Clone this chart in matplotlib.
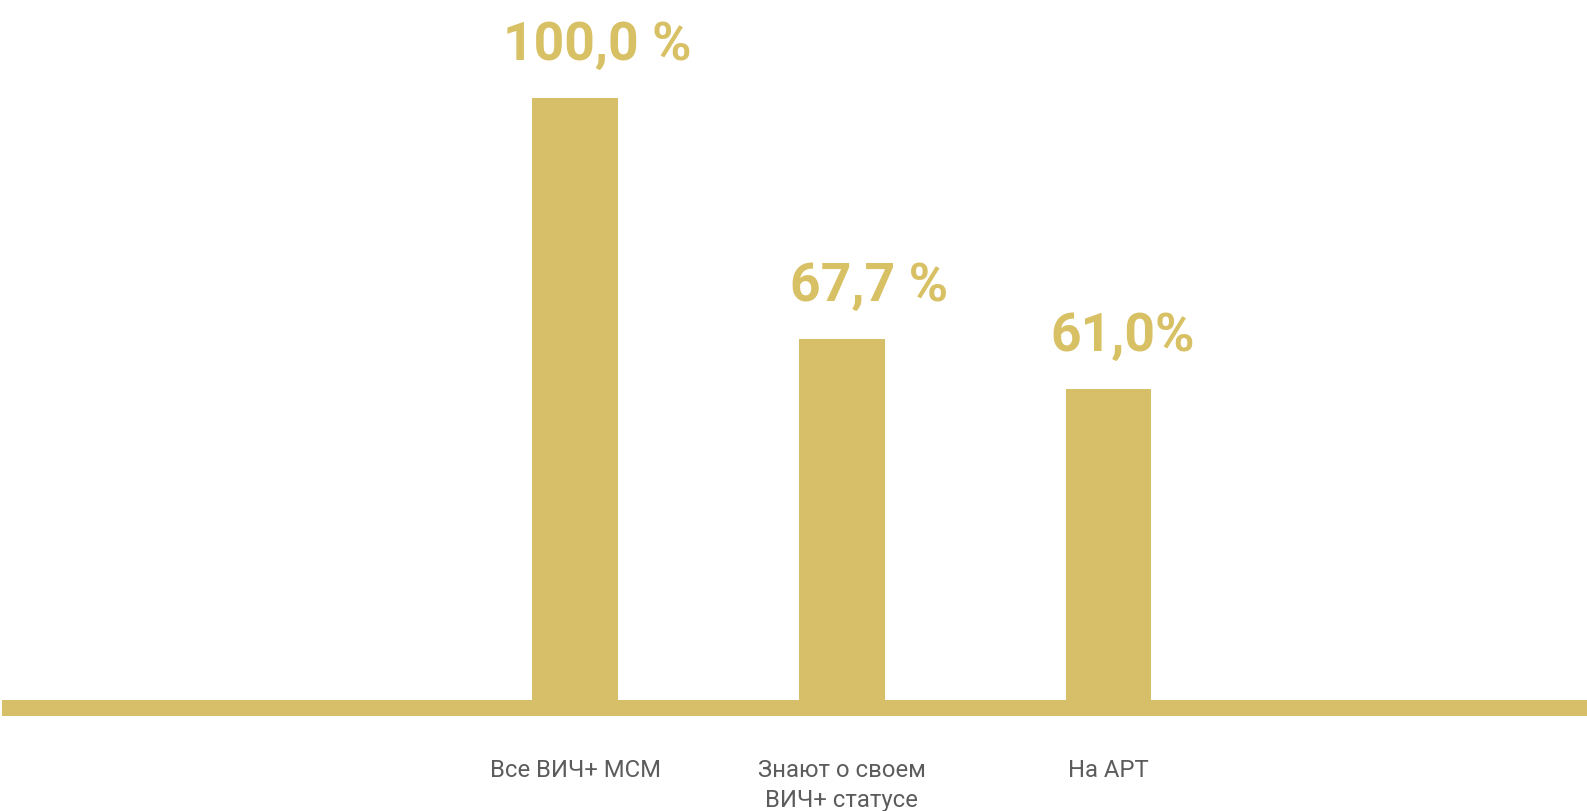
import matplotlib
matplotlib.use("Agg")
import matplotlib.pyplot as plt
import numpy as np

# Data
categories = ["Все ВИЧ+ МСМ", "Знают о своем\nВИЧ+ статусе", "На АРТ"]
values = [100.0, 67.7, 61.0]
value_labels = ["100,0 %", "67,7 %", "61,0%"]

# Styling
GOLD = "#D7BF69"
LABEL_GOLD = "#D8C064"
GREY = "#5c5c5c"
label_dx = [22, 27, 14]      # horizontal nudge of value labels, pixels
label_dy = 39                # gap between bar top and label baseline, pixels

W, H, DPI = 1587, 812, 100
fig = plt.figure(figsize=(W / DPI, H / DPI), dpi=DPI)
fig.patch.set_facecolor("white")

axis_bottom_px = 717
ax = fig.add_axes([0, (H - axis_bottom_px) / H, 1, axis_bottom_px / H])
ax.set_facecolor("white")

x = np.arange(len(categories))
ax.set_xlim(-2.1556, 3.7938)
ax.set_ylim(17.11, 113.23)

ax.bar(x, values, width=0.322, color=GOLD, edgecolor="none", zorder=2)

# Baseline band
ax.axhspan(17.11, 19.32, xmin=2 / W, xmax=1.0, color=GOLD, lw=0, zorder=3)

for xi, v, lab, dx in zip(x, values, value_labels, label_dx):
    ax.annotate(lab, xy=(xi, v), xytext=(dx, label_dy), textcoords="offset pixels",
                ha="center", va="baseline", fontsize=38.5, fontweight="bold",
                family="Roboto", color=LABEL_GOLD)

ax.set_xticks(x)
ax.set_xticklabels(categories, fontsize=17.2, family="Roboto", color=GREY,
                   linespacing=1.42)
ax.tick_params(axis="x", length=0, pad=30)
ax.set_yticks([])
for s in ax.spines.values():
    s.set_visible(False)

fig.savefig("out.png", dpi=DPI, facecolor="white")
